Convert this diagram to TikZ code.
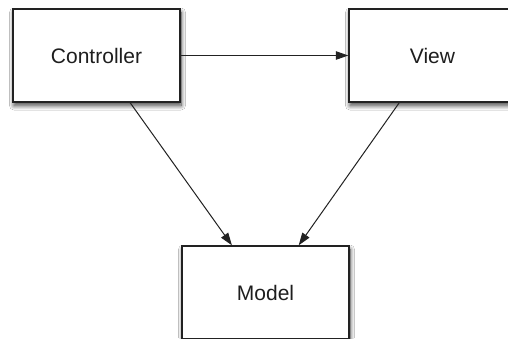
\documentclass[tikz,border=0pt]{standalone}
\usepackage{fontspec}
\setmainfont{Liberation Sans}
\usetikzlibrary{arrows.meta,shadows.blur}
\definecolor{edgegray}{HTML}{222222}
\definecolor{txtgray}{HTML}{1E1E1E}
\tikzset{
  box/.style={draw=edgegray, line width=1.4pt, fill=white, minimum width=167pt, minimum height=93pt,
    inner sep=0pt, font=\fontsize{21}{24}\selectfont, text=txtgray,
    blur shadow={shadow xshift=1pt, shadow yshift=-3.5pt, shadow blur radius=4.5pt, shadow blur steps=14, shadow opacity=75}},
  conn/.style={draw=edgegray, line width=1pt, -{Triangle[length=12.5pt,width=8.5pt]}}
}
\begin{document}
\begin{tikzpicture}[x=1pt,y=1pt]
\useasboundingbox (0,0) rectangle (508,-338);
\fill[white] (0,0) rectangle (508,-338);
\node[box] (c) at (96.5,-55.5) {Controller};
\node[box] (v) at (432.5,-55.5) {View};
\node[box] (m) at (265.5,-292.5) {Model};
\draw[conn] (c) -- (v);
\draw[conn] (c) -- (m);
\draw[conn] (v) -- (m);
\end{tikzpicture}
\end{document}
